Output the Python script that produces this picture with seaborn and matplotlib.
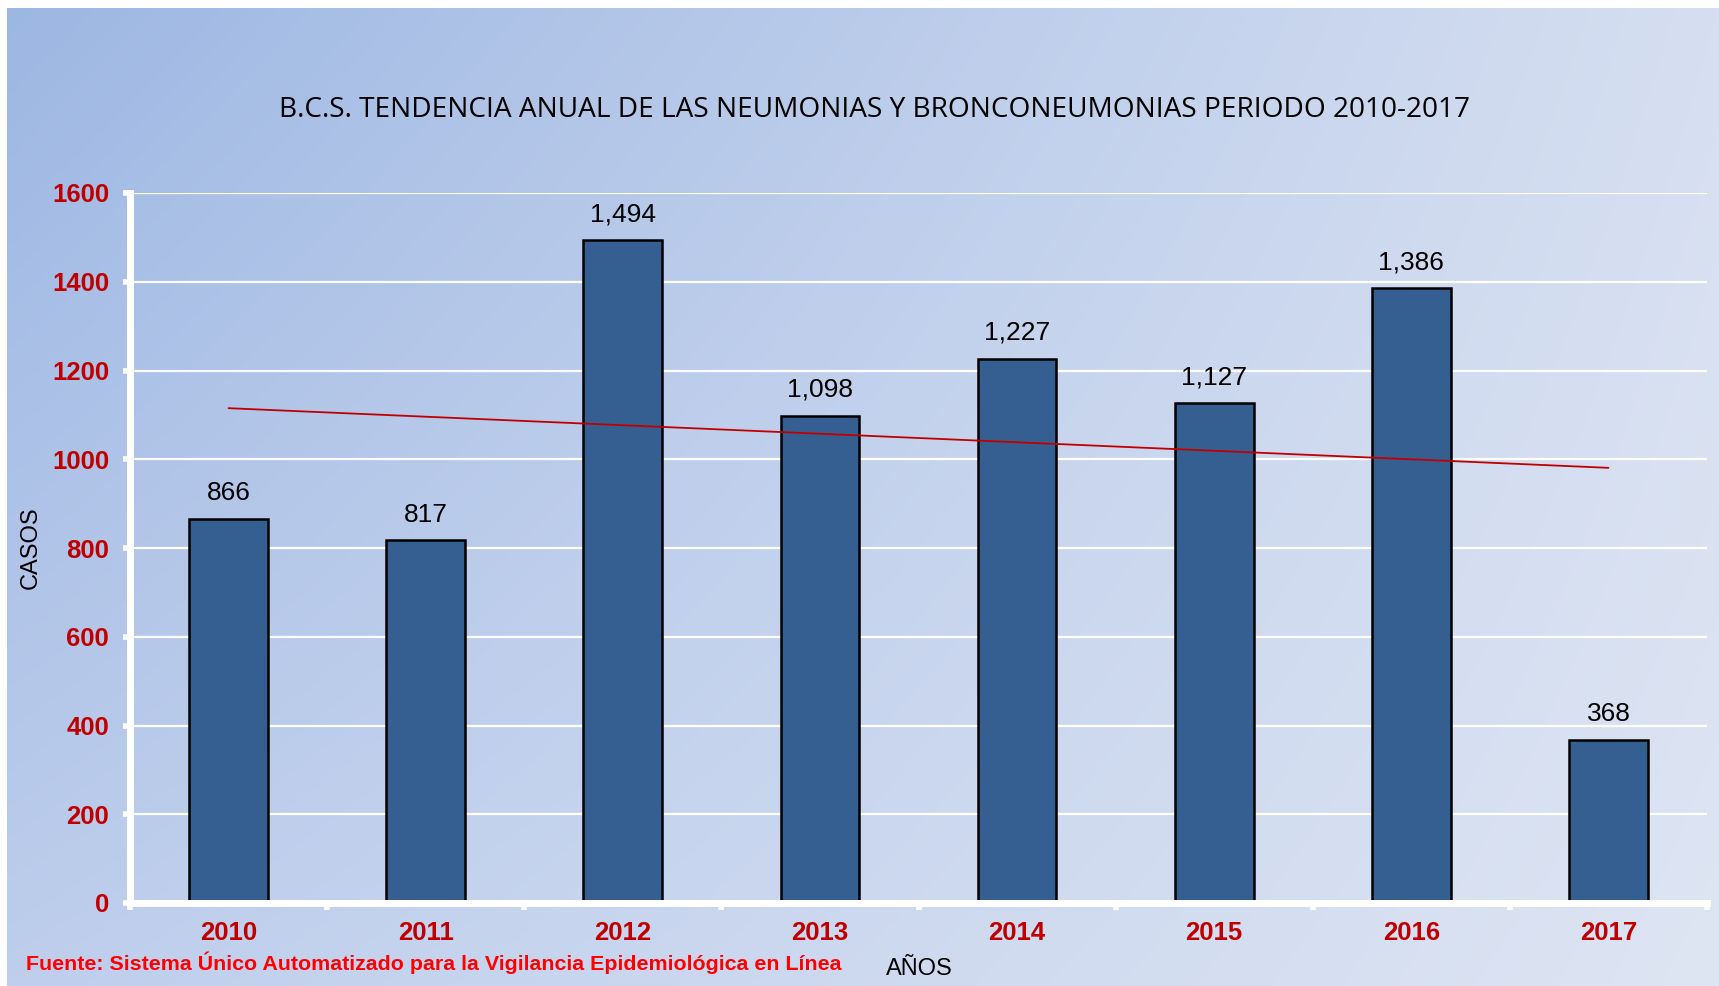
import numpy as np
import matplotlib
matplotlib.use('Agg')
import matplotlib.pyplot as plt
import seaborn as sns

years = ['2010', '2011', '2012', '2013', '2014', '2015', '2016', '2017']
cases = [866, 817, 1494, 1098, 1227, 1127, 1386, 368]
y_ticks = [0, 200, 400, 600, 800, 1000, 1200, 1400, 1600]

title = 'B.C.S. TENDENCIA ANUAL DE LAS NEUMONIAS Y BRONCONEUMONIAS PERIODO 2010-2017'
source = 'Fuente: Sistema Único Automatizado para la Vigilancia Epidemiológica en Línea'

sns.set_theme(style='white')
plt.rcParams['font.family'] = ['Liberation Sans', 'DejaVu Sans']

W, H = 1719, 986
fig = plt.figure(figsize=(W / 100, H / 100), dpi=100)
fig.patch.set_facecolor('white')

# gradient backdrop (dark blue top-left -> pale bottom-right)
bg = fig.add_axes([7 / W, 0, 1 - 7 / W, 1 - 8 / H], zorder=0)
tl = np.array([157, 183, 227]) / 255
tr = np.array([214, 223, 241]) / 255
bl = np.array([190, 206, 236]) / 255
br = np.array([222, 229, 243]) / 255
u = np.linspace(0, 1, 300)[None, :, None]
v = np.linspace(0, 1, 200)[:, None, None]
grad = (1 - u) * (1 - v) * tl + u * (1 - v) * tr + (1 - u) * v * bl + u * v * br
bg.imshow(grad, aspect='auto', extent=[0, 1, 0, 1], interpolation='bilinear')
bg.axis('off')

ax = fig.add_axes([130 / W, (H - 903) / H, (1707 - 130) / W, (903 - 193) / H], zorder=1)
ax.patch.set_visible(False)

ax.yaxis.grid(True, color='white', linewidth=1.6)
ax.set_axisbelow(True)

sns.barplot(x=years, y=cases, color='#365F91', width=0.4, edgecolor='black',
            linewidth=1.8, saturation=1, ax=ax, zorder=2)
sns.regplot(x=np.arange(len(years)), y=cases, scatter=False, ci=None, ax=ax,
            color='#C00000', line_kws={'linewidth': 1.3, 'zorder': 3})

for c in ax.containers:
    ax.bar_label(c, labels=[f'{v:,.0f}' for v in cases], padding=10, fontsize=19, color='black')

ax.set_xlim(-0.5, len(years) - 0.5)
ax.set_ylim(0, 1600)
ax.set_yticks(y_ticks)
ax.set_xticks(range(len(years)))
ax.set_xticklabels(years)
ax.set_xticks(np.arange(-0.5, len(years), 1.0), minor=True)

for s in ['top', 'right']:
    ax.spines[s].set_visible(False)
for s in ['left', 'bottom']:
    ax.spines[s].set_color('white')
    ax.spines[s].set_linewidth(5)

ax.tick_params(axis='x', which='major', length=0, pad=13, labelsize=18.5,
               labelcolor='#C00000')
ax.tick_params(axis='x', which='minor', bottom=True, length=5, width=4, color='white')
ax.tick_params(axis='y', left=True, length=5, width=4, color='white', pad=10,
               labelsize=18.5, labelcolor='#C00000')
for lbl in ax.get_xticklabels() + ax.get_yticklabels():
    lbl.set_fontweight('bold')

ax.set_xlabel('')
ax.set_ylabel('')

fig.text(874 / W, 1 - 110 / H, title, ha='center', va='center', fontsize=20.2,
         family=['Open Sans', 'DejaVu Sans'], color='black')
fig.text(31 / W, 1 - 548 / H, 'CASOS', rotation=90, ha='center', va='center',
         fontsize=17, color='black')
fig.text(919 / W, 1 - 969 / H, 'AÑOS', ha='center', va='center', fontsize=17,
         color='black')
fig.text(26 / W, 1 - 963 / H, source, ha='left', va='center', fontsize=15.4,
         fontweight='bold', color='#FF0000')

fig.savefig('out.png', dpi=100)
